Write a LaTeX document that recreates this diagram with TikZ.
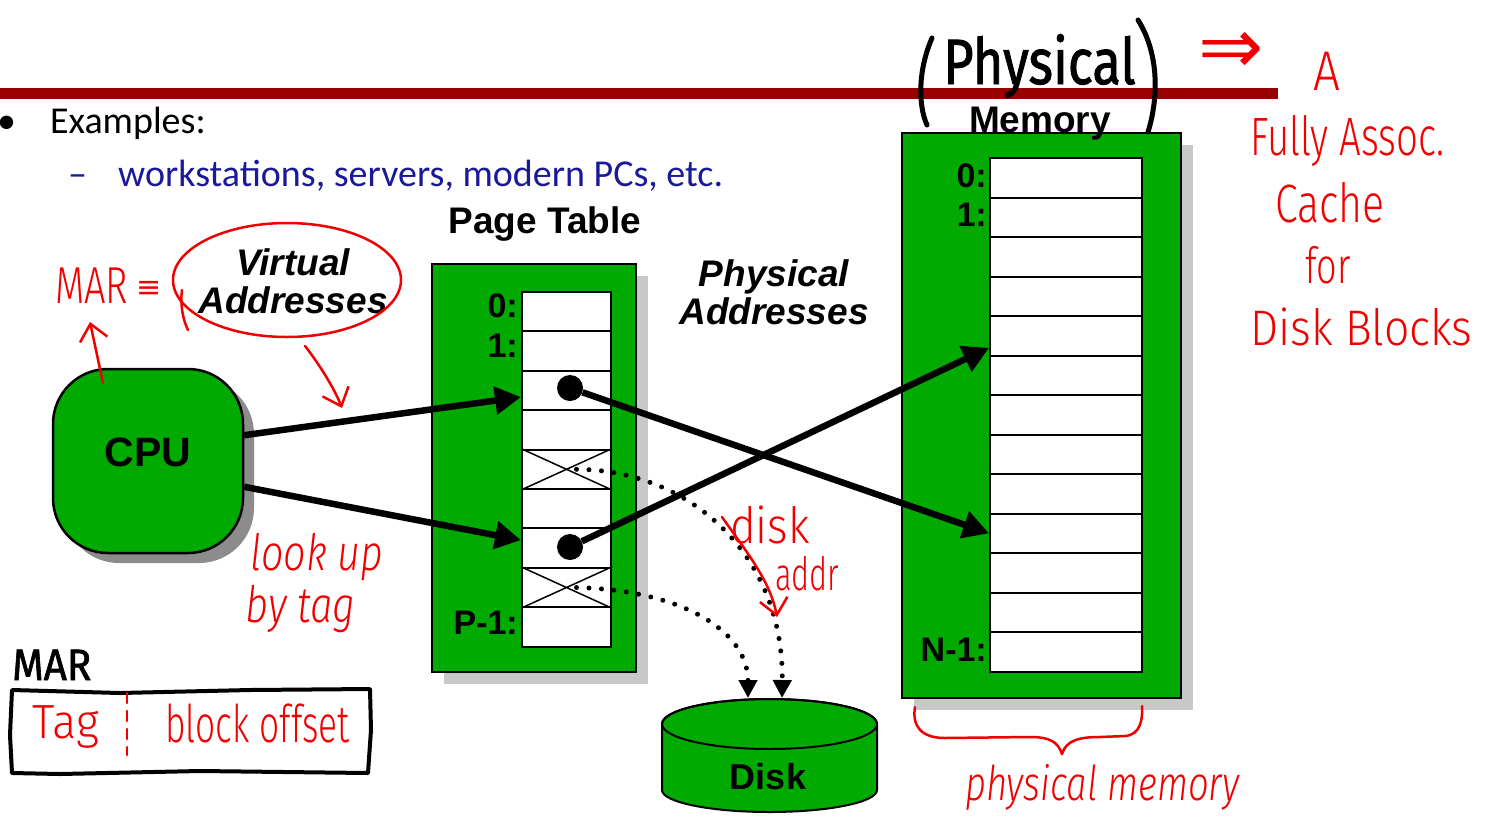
\documentclass[tikz,border=0pt]{standalone}
\usepackage{fontspec}
\setmainfont{Liberation Sans}
\newfontfamily\slidefont{Carlito}
\newfontfamily\handfont{Fira Sans Light}
\newfontfamily\markerfont{Fira Sans}[FakeBold=1.5]
\newfontfamily\symfont{DejaVu Sans}
\usetikzlibrary{arrows.meta,calc,shadows}

\definecolor{boxgreen}{RGB}{0,170,0}
\definecolor{barred}{RGB}{153,0,0}
\definecolor{slideblue}{RGB}{26,26,153}
\definecolor{shadowgray}{RGB}{200,200,200}
\definecolor{cpushadow}{RGB}{140,140,140}
\definecolor{inkred}{RGB}{240,0,0}

\newcommand\fs[1]{\fontsize{#1}{#1}\selectfont}
\newcommand\hw[2]{\scalebox{#1}[1]{#2}}

\tikzset{
  boxbase/.style={draw, line width=2.5pt, fill=boxgreen, inner sep=0pt},
  greenbox/.style={boxbase, drop shadow={shadow xshift=12pt, shadow yshift=-12pt, fill=shadowgray, opacity=1}},
  cpubox/.style={boxbase, rounded corners=55pt, drop shadow={shadow xshift=11pt, shadow yshift=-10pt, fill=cpushadow, opacity=1}},
  cell/.style={draw, fill=white, line width=2pt, inner sep=0pt, minimum height=39.4pt},
  rowlabel/.style={font=\bfseries\fs{34}, anchor=base east, inner sep=0pt},
  bigarrow/.style={line width=6.5pt, -{Triangle[length=26pt,width=27pt]}},
  dotarrow/.style={line width=5pt, line cap=round, dash pattern=on 0pt off 12.5pt, -{Triangle[length=18pt,width=18pt]}},
  pen/.style={inkred, line width=2.5pt, line cap=round, line join=round},
  penarrow/.style={pen, -{Straight Barb[length=16pt,width=28pt]}},
  marker/.style={black, line width=5pt, line cap=round, line join=round},
  ink/.style={text=inkred, inner sep=0pt, anchor=base west},
  slide/.style={inner sep=0pt, anchor=base west, font=\slidefont\fs{38}},
}

\begin{document}
\begin{tikzpicture}[x=1pt, y=-1pt]
\useasboundingbox (0,0) rectangle (1486,823);

% slide header bar and bullet text
\fill[barred] (0,88) rectangle (1278,99);
\node[slide] (bullet) at (-3,133) {•};
\node[slide] (examples) at (50,133) {Examples:};
\node[slide, text=slideblue] (dash) at (68,186) {–};
\node[slide, text=slideblue] (examplelist) at (118,186) {workstations, servers, modern PCs, etc.};

% CPU
\node[cpubox, minimum width=190pt, minimum height=184pt] (cpu) at (148,461) {};
\node[font=\bfseries\fs{41}] (cpulabel) at ([yshift=9pt]cpu.center) {CPU};

% page table
\node[font=\bfseries\fs{37}, anchor=base] (pttitle) at (545,233) {Page Table};
\node[greenbox, minimum width=204pt, minimum height=408pt] (ptbox) at (534,468) {};
\foreach \i in {0,...,8}
  \node[cell, minimum width=89pt] (pt\i) at (566.5,{311.7+39.4*\i}) {};
\node[rowlabel] (ptl0) at (518,317) {0:};
\node[rowlabel] (ptl1) at (518,357) {1:};
\node[rowlabel] (ptlP) at (518,634) {P-1:};
\foreach \r in {4,7}
  \draw[line width=1.5pt] (pt\r.north west) -- (pt\r.south east)
                          (pt\r.south west) -- (pt\r.north east);
\node[circle, fill=black, inner sep=0pt, minimum size=26pt] (dotA) at (570,388) {};
\node[circle, fill=black, inner sep=0pt, minimum size=26pt] (dotB) at (570,547) {};

% physical memory
\node[greenbox, minimum width=279pt, minimum height=565pt] (memory) at (1041.5,415.5) {};
\node[font=\bfseries\fs{37}, anchor=base] (memtitle) at (1040,132) {Memory};
\foreach \i in {0,...,12}
  \node[cell, minimum width=152pt] (m\i) at (1066,{177.8+39.5*\i}) {};
\node[rowlabel] (ml0) at (987,187) {0:};
\node[rowlabel] (ml1) at (987,226) {1:};
\node[rowlabel] (mlN) at (987,661) {N-1:};

% address labels
\node[font=\bfseries\itshape\fontsize{37}{38}\selectfont, align=center] (va) at (293,281) {Virtual\\Addresses};
\node[font=\bfseries\itshape\fontsize{37}{38}\selectfont, align=center] (pa) at (774,292) {Physical\\Addresses};

% disk
\path[draw, line width=2pt, fill=boxgreen]
  (662,724) -- (662,790) arc[start angle=180, end angle=0, x radius=107.5, y radius=22]
  -- (877,724) arc[start angle=0, end angle=-180, x radius=107.5, y radius=25] -- cycle;
\draw[line width=2pt] (769.5,724) ellipse [x radius=107.5, y radius=25];
\node[font=\bfseries\fs{36}] (disk) at (768,777) {Disk};
\coordinate (disktop) at (769,698);

% translations
\draw[bigarrow] (cpu.15) -- ([yshift=-6.5pt]pt2.west);
\draw[bigarrow] (cpu.-15) -- ([yshift=8pt]pt6.west);
\draw[bigarrow] (dotA) -- (m9.west);
\draw[bigarrow] (dotB) -- ([yshift=-12pt]m4.west);
\draw[dotarrow] ([xshift=10pt]pt4.center) .. controls (690,470) and (784,555) .. ([xshift=13pt]disktop);
\draw[dotarrow] ([xshift=10pt]pt7.center) .. controls (680,590) and (748,630) .. ([xshift=-21pt]disktop);

% red notes around the CPU side
\node[ink] (marnote) at (55,303) {\handfont\fs{52}\hw{.73}{MAR}\,\raisebox{6pt}{\symfont\fs{30}≡}};
\coordinate (cpumark) at (103,383);
\coordinate (martip) at (90,322);
\draw[penarrow] (cpumark) -- (martip);
\draw[pen] (287,280) ellipse [x radius=114, y radius=57];
\draw[pen] (182,290) .. controls (180,305) and (183,320) .. (188,330);
\coordinate (ringfoot) at (305,346);
\coordinate (vatip) at (342,408);
\draw[penarrow] (ringfoot) .. controls (320,365) and (335,390) .. (vatip);
\node[ink, font=\handfont\itshape\fs{50}] (lookup) at (250,570) {\hw{.79}{look up}};
\node[ink, font=\handfont\itshape\fs{50}] (bytag) at (245,622) {\hw{.8}{by tag}};

% disk address note
\node[ink, font=\handfont\fs{50}] (disknote) at (730,543) {\hw{.88}{disk}};
\node[ink, font=\handfont\fs{46}] (addrnote) at (775,590) {\hw{.67}{addr}};
\coordinate (addrstart) at (722,517);
\coordinate (addrtip) at (777,617);
\draw[penarrow] (addrstart) .. controls (745,550) and (770,580) .. (addrtip);

% MAR layout sketch
\node[anchor=base west, inner sep=0pt, font=\markerfont\fs{44}] (marhead) at (12,680) {\hw{.92}{MAR}};
\draw[black, line width=4pt, line join=round]
  (12,690) -- (120,693) -- (250,690) -- (370,689) -- (371,730) -- (368,773)
  -- (200,771) -- (60,774) -- (12,773) -- (10,735) -- cycle;
\node[ink, font=\handfont\fs{48}] (tagfield) at (32,738) {\hw{.94}{Tag}};
\node[ink, font=\handfont\fs{52}] (offfield) at (165,742) {\hw{.68}{block offset}};
\draw[pen, dash pattern=on 10pt off 8pt] (127,693) -- (127,755);

% physical memory notes
\node[anchor=base west, inner sep=0pt, font=\markerfont\fs{64}] (physnote) at (943,84) {\hw{.82}{Physical}};
\draw[marker] (932,38) .. controls (918,70) and (918,105) .. (927,125);
\draw[marker] (1138,20) .. controls (1160,55) and (1158,100) .. (1148,132);
\node[ink, anchor=center, font=\symfont\fs{78}] (impl) at (1231,53) {⇒};
\node[ink, font=\handfont\fs{56}] (noteA) at (1313,90) {\hw{.85}{A}};
\node[ink, font=\handfont\fs{54}] (noteFully) at (1250,155) {\hw{.71}{Fully Assoc.}};
\node[ink, font=\handfont\fs{54}] (noteCache) at (1275,222) {\hw{.76}{Cache}};
\node[ink, font=\handfont\fs{50}] (noteFor) at (1305,283) {\hw{.72}{for}};
\node[ink, font=\handfont\fs{50}] (noteBlocks) at (1250,345) {\hw{.89}{Disk Blocks}};
\draw[pen] (915,707) .. controls (912,725) and (920,738) .. (945,738) -- (1030,737)
  .. controls (1050,737) and (1058,742) .. (1062,754)
  .. controls (1066,740) and (1080,737) .. (1100,737) -- (1125,736)
  .. controls (1140,735) and (1143,720) .. (1142,706);
\node[ink, font=\handfont\itshape\fs{48}] (physmem) at (965,800) {\hw{.76}{physical memory}};
\end{tikzpicture}
\end{document}
